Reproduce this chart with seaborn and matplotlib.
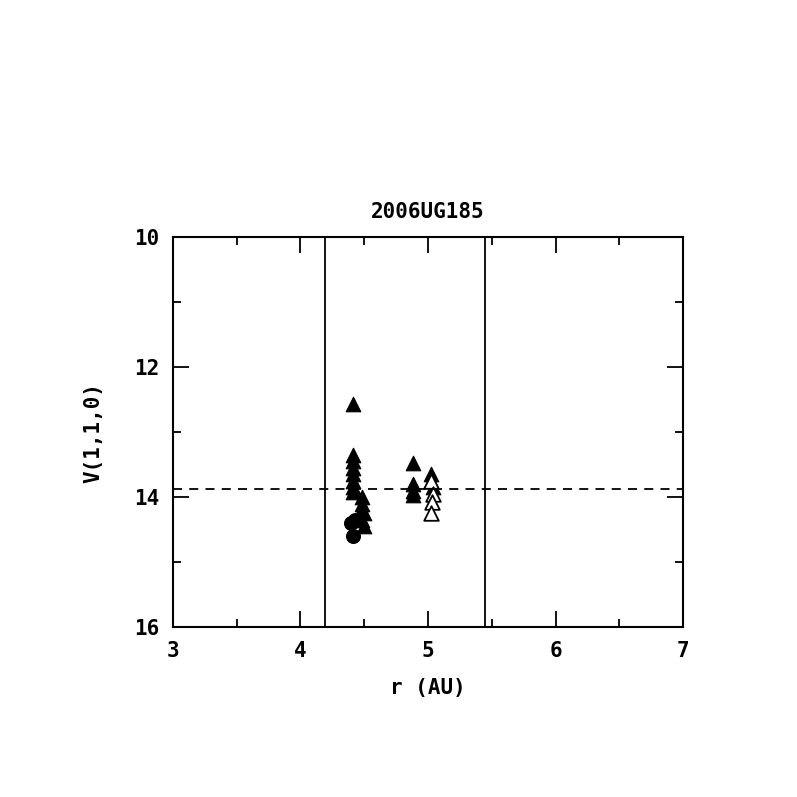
import numpy as np
import pandas as pd
import matplotlib
matplotlib.use('Agg')
import matplotlib.pyplot as plt
import seaborn as sns

# pontos
r_fill_tri = [4.41, 4.41, 4.41, 4.41, 4.41, 4.41, 4.41, 4.41,
              4.45, 4.48, 4.48, 4.48, 4.48, 4.50, 4.50,
              4.88, 4.88, 4.88, 4.88, 5.02, 5.02, 5.04]
v_fill_tri = [12.57, 13.35, 13.45, 13.55, 13.65, 13.75, 13.85, 13.92,
              14.30, 14.00, 14.10, 14.20, 14.35, 14.45, 14.25,
              13.47, 13.80, 13.90, 13.97, 13.65, 13.75, 13.85]
r_open_tri = [5.02, 5.04, 5.03, 5.02]
v_open_tri = [13.75, 13.95, 14.08, 14.25]
r_circ = [4.40, 4.41, 4.43]
v_circ = [14.40, 14.60, 14.35]

r_lines = [4.19, 5.45]
v_dash = 13.88

sns.set_theme(style='white')
plt.rcParams['font.family'] = ['DejaVu Sans Mono']
plt.rcParams['text.color'] = 'black'
plt.rcParams['axes.labelcolor'] = 'black'
plt.rcParams['xtick.color'] = 'black'
plt.rcParams['ytick.color'] = 'black'

fig = plt.figure(figsize=(7.97, 7.97), dpi=100)
ax = fig.add_axes([0.217, 0.2133, 0.64, 0.4893])

sns.scatterplot(x=r_fill_tri, y=v_fill_tri, marker='^', s=110, color='black',
                edgecolor='black', linewidth=0.8, ax=ax, legend=False)
sns.scatterplot(x=r_open_tri, y=v_open_tri, marker='^', s=110, facecolor='white',
                edgecolor='black', linewidth=1.3, ax=ax, legend=False)
sns.scatterplot(x=r_circ, y=v_circ, marker='o', s=100, color='black',
                edgecolor='black', ax=ax, legend=False)

for xv in r_lines:
    ax.axvline(xv, color='black', lw=1.3)
ax.axhline(v_dash, color='black', lw=1.3, ls=(0, (5, 4)))

ax.set_xlim(3, 7)
ax.set_ylim(16, 10)
ax.set_xticks([3, 4, 5, 6, 7])
ax.set_xticks(np.arange(3, 7.01, 0.5), minor=True)
ax.set_yticks([10, 12, 14, 16])
ax.set_yticks([11, 13, 15], minor=True)
ax.tick_params(which='both', direction='in', top=True, right=True,
               bottom=True, left=True,
               color='black', labelcolor='black', width=1.3, labelsize=15)
ax.tick_params(axis='x', pad=10)
ax.tick_params(axis='y', pad=10)
ax.tick_params(which='major', length=11.5)
ax.tick_params(which='minor', length=6)
for s in ax.spines.values():
    s.set_color('black')
    s.set_linewidth(1.5)

ax.set_xlabel('r (AU)', fontsize=15, fontweight='bold', color='black', labelpad=12)
ax.set_ylabel('V(1,1,0)', fontsize=15, fontweight='bold', color='black', labelpad=22)
ax.set_title('2006UG185', fontsize=15, fontweight='bold', pad=14, color='black')
for lab in ax.get_xticklabels() + ax.get_yticklabels():
    lab.set_fontweight('bold')

fig.savefig('out.png', dpi=100, facecolor='white')
